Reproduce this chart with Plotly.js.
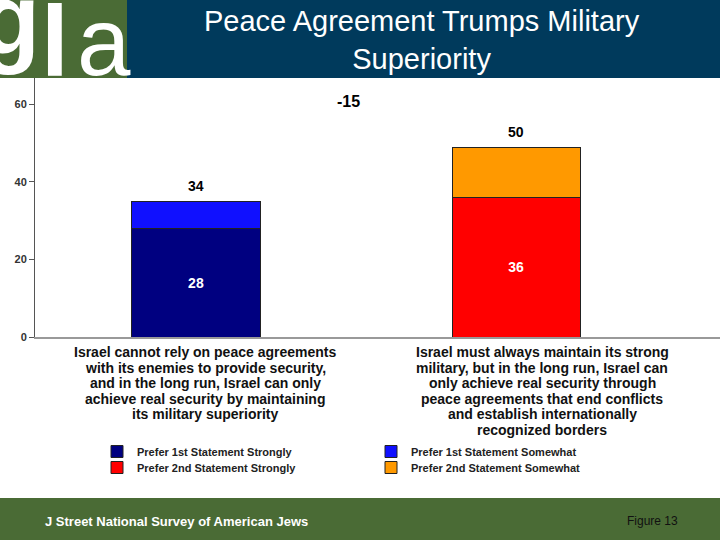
<!DOCTYPE html>
<html>
<head>
<meta charset="utf-8">
<script src="https://cdn.plot.ly/plotly-3.0.1.min.js"></script>
<style>
  html, body { margin: 0; padding: 0; background: #fff; }
  #myChart { width: 720px; height: 540px; }
</style>
</head>
<body>
<div id="myChart"></div>
<script>
// data
var categories = ['first', 'second'];
var first_strongly = [28, null];
var first_somewhat = [7, null];
var second_strongly = [null, 36];
var second_somewhat = [null, 13];
var inside_labels_1 = ['28', ''];
var inside_labels_2 = ['', '36'];
var total_labels = ['34', '50'];
var net_label = '-15';
var y_ticks = [0, 20, 40, 60];

var cat_lines = [
    ['Israel cannot rely on peace agreements',
     'with its enemies to provide security,',
     'and in the long run, Israel can only',
     'achieve real security by maintaining',
     'its military superiority'],
    ['Israel must always maintain its strong',
     'military, but in the long run, Israel can',
     'only achieve real security through',
     'peace agreements that end conflicts',
     'and establish internationally',
     'recognized borders']
];

var title_text = 'Peace Agreement Trumps Military<br>Superiority';
var footer_left = 'J Street National Survey of American Jews';
var footer_right = 'Figure 13';

// pixel helpers (plot area: left 35, top 78, width 685, height 259)
var L = 35, T = 78, W = 685, H = 259;
function px(x){ return (x - L) / W; }
function py(y){ return (T + H - y) / H; }

var font = 'Liberation Sans, Arial, sans-serif';
var line_style = {color: '#222', width: 1};

var trace1 = {
    x: categories, y: first_strongly, name: 'Prefer 1st Statement Strongly',
    type: 'bar', marker: {color: '#000080', line: line_style},
    text: inside_labels_1, textposition: 'inside', insidetextanchor: 'middle',
    textfont: {color: '#fff', size: 14, family: font, weight: 'bold'},
    hoverinfo: 'y', legend: 'legend'
};
var trace2 = {
    x: categories, y: first_somewhat, name: 'Prefer 1st Statement Somewhat',
    type: 'bar', marker: {color: '#1010ff', line: line_style},
    hoverinfo: 'y', legend: 'legend'
};
var trace3 = {
    x: categories, y: second_strongly, name: 'Prefer 2nd Statement Strongly',
    type: 'bar', marker: {color: '#ff0000', line: line_style},
    text: inside_labels_2, textposition: 'inside', insidetextanchor: 'middle',
    textfont: {color: '#fff', size: 14, family: font, weight: 'bold'},
    hoverinfo: 'y', legend: 'legend2'
};
var trace4 = {
    x: categories, y: second_somewhat, name: 'Prefer 2nd Statement Somewhat',
    type: 'bar', marker: {color: '#ff9900', line: line_style},
    hoverinfo: 'y', legend: 'legend2'
};

var data = [trace1, trace2, trace3, trace4];

var annotations = [];

function note(x, y, text, size, color, bold, xanchor) {
    return {
        x: px(x), y: py(y), xref: 'paper', yref: 'paper',
        xanchor: xanchor || 'center', yanchor: 'middle',
        text: text, showarrow: false,
        font: {family: font, size: size, color: color, weight: bold ? 'bold' : 'normal'}
    };
}

// totals above the stacks
for (var i = 0; i < categories.length; i++) {
    var stack_top = (first_strongly[i] || 0) + (first_somewhat[i] || 0) +
                    (second_strongly[i] || 0) + (second_somewhat[i] || 0);
    annotations.push({
        x: categories[i], y: stack_top, xref: 'x', yref: 'y',
        text: total_labels[i], showarrow: false, xanchor: 'center',
        yanchor: 'bottom', yshift: 5,
        font: {family: font, size: 14, color: '#000', weight: 'bold'}
    });
}

annotations.push(note(348, 101, net_label, 16, '#000', true));

// category statements under the axis
var cat_shift = [9, 26];
for (var c = 0; c < cat_lines.length; c++) {
    for (var k = 0; k < cat_lines[c].length; k++) {
        annotations.push({
            x: categories[c], xref: 'x', xshift: cat_shift[c], xanchor: 'center',
            y: py(352 + k * 15.6), yref: 'paper', yanchor: 'middle',
            text: cat_lines[c][k], showarrow: false,
            font: {family: font, size: 14, color: '#111', weight: 'bold'}
        });
    }
}

// header: logo letters and title
annotations.push(note(9, 19, 'g', 100, '#fff', true));
annotations.push(note(55, 41, 'l', 100, '#fff', true));
annotations.push(note(104, 41, 'a', 96, '#fff', false));
annotations.push(note(422, 40, title_text, 29, '#fff', false));

// footer
annotations.push(note(43, 521, footer_left, 13, '#fff', true, 'left'));
annotations.push(note(625, 521, footer_right, 12, '#111', false, 'left'));

var shapes = [
    {type: 'rect', xref: 'paper', yref: 'paper', x0: px(0), x1: px(127), y0: py(78), y1: py(0),
     fillcolor: '#4a6b35', line: {width: 0}, layer: 'below'},
    {type: 'rect', xref: 'paper', yref: 'paper', x0: px(127), x1: px(720), y0: py(78), y1: py(0),
     fillcolor: '#003a5c', line: {width: 0}, layer: 'below'},
    {type: 'rect', xref: 'paper', yref: 'paper', x0: px(0), x1: px(720), y0: py(540), y1: py(498),
     fillcolor: '#4a6b35', line: {width: 0}, layer: 'below'}
];

var legend_base = {
    orientation: 'h', xanchor: 'left', yanchor: 'top',
    traceorder: 'normal', entrywidth: 229, entrywidthmode: 'pixels',
    font: {family: font, size: 11, color: '#222', weight: 'bold'},
    bgcolor: 'rgba(0,0,0,0)'
};
var legend1 = Object.assign({}, legend_base, {x: px(97), y: py(437)});
var legend2 = Object.assign({}, legend_base, {x: px(97), y: py(453)});

var layout = {
    width: 720, height: 540,
    margin: {l: L, r: 0, t: T, b: 540 - T - H, pad: 0},
    paper_bgcolor: '#fff', plot_bgcolor: '#fff',
    barmode: 'stack', bargap: 0.6,
    showlegend: true,
    legend: legend1,
    legend2: legend2,
    xaxis: {
        type: 'category', range: [-0.503, 1.637], showticklabels: false,
        showline: true, linecolor: '#999', linewidth: 2, ticks: '', showgrid: false,
        zeroline: false, fixedrange: true
    },
    yaxis: {
        range: [0, 66.8], tickvals: y_ticks, ticks: 'outside', ticklen: 5,
        tickcolor: '#555', showline: true, linecolor: '#555', linewidth: 1,
        showgrid: false, zeroline: false, fixedrange: true,
        tickfont: {family: font, size: 11, color: '#333', weight: 'bold'}
    },
    annotations: annotations,
    shapes: shapes
};

Plotly.newPlot('myChart', data, layout, {displayModeBar: false, staticPlot: true});
</script>
</body>
</html>
